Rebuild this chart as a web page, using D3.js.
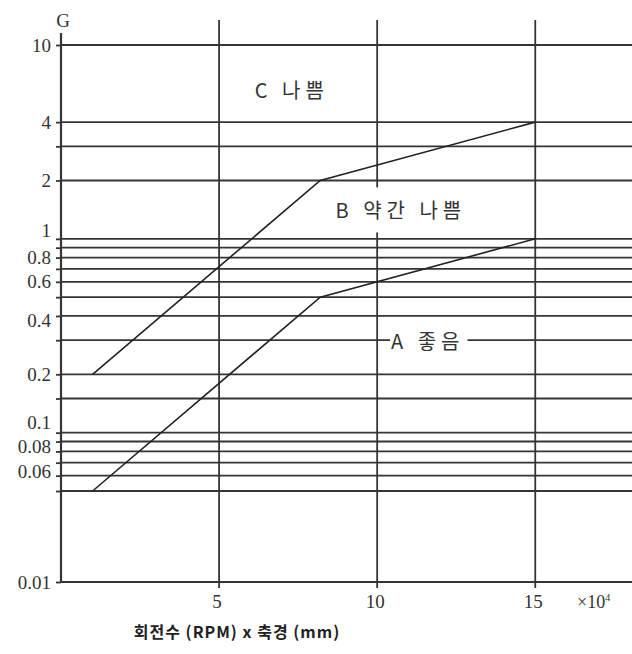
<!DOCTYPE html>
<html>
<head>
<meta charset="utf-8">
<script src="https://cdn.jsdelivr.net/npm/d3@7"></script>
<style>
  html, body { margin: 0; padding: 0; background: #fff; }
  svg { display: block; }
</style>
</head>
<body>
<svg id="chart" width="632" height="654"></svg>
<script>
// Vibration severity chart: G versus speed x shaft diameter
const xTicks = [5, 10, 15];
const gridValues = [10, 4, 3, 2, 1, 0.9, 0.8, 0.7, 0.6, 0.5, 0.4, 0.3, 0.2, 0.15, 0.1, 0.09, 0.08, 0.07, 0.06, 0.05];
const yTickLabels = ["10", "4", "2", "1", "0.8", "0.6", "0.4", "0.2", "0.1", "0.08", "0.06", "0.01"];
const boundaryUpperX = [1, 8.2, 15];
const boundaryUpperG = [0.2, 2, 4];
const boundaryLowerX = [1, 8.2, 15];
const boundaryLowerG = [0.05, 0.5, 1];
const zoneNames = ["C 나쁨", "B 약간 나쁨", "A 좋음"];
const zoneX = [7.3, 10.75, 11.6];
const zoneG = [5.9, 1.41, 0.3];

const svg = d3.select("#chart");
const ink = "#353535";

// x: linear; y: log scale, with the lowest band compressed down to 0.01
const x = d3.scaleLinear().domain([0, 18.06]).range([61, 632]);
const y = d3.scaleLog().domain([0.01, 0.05, 10]).range([582, 491, 45]);

// horizontal grid
svg.append("g").selectAll("line").data(gridValues).join("line")
  .attr("x1", x(0)).attr("x2", 632)
  .attr("y1", d => y(d)).attr("y2", d => y(d))
  .attr("stroke", ink).attr("stroke-width", 1.8);

// vertical grid
svg.append("g").selectAll("line").data(xTicks).join("line")
  .attr("x1", d => x(d)).attr("x2", d => x(d))
  .attr("y1", 20).attr("y2", 588)
  .attr("stroke", ink).attr("stroke-width", 1.8);

// y axis
const yAxis = d3.axisLeft(y)
  .tickValues(gridValues.concat([0.01]))
  .tickSize(5)
  .tickFormat("");
const gy = svg.append("g").attr("transform", `translate(${x(0)},0)`).call(yAxis);
gy.select(".domain").remove();
gy.selectAll(".tick line").attr("stroke", ink).attr("stroke-width", 1.8);
svg.append("line")
  .attr("x1", x(0)).attr("x2", x(0)).attr("y1", 33).attr("y2", y(0.01))
  .attr("stroke", ink).attr("stroke-width", 2.2);

// x axis
svg.append("line")
  .attr("x1", x(0)).attr("x2", 632).attr("y1", y(0.01)).attr("y2", y(0.01))
  .attr("stroke", ink).attr("stroke-width", 2);

const serif = "'Liberation Serif', 'DejaVu Serif', serif";

// y tick labels (a few nudged apart where the grid is dense)
const nudge = { "1": -8, "0.1": -10, "0.08": -5, "0.06": -4, "0.4": 5 };
svg.append("g").selectAll("text").data(yTickLabels).join("text")
  .attr("x", 51)
  .attr("y", d => y(+d) + (nudge[d] || 0))
  .attr("text-anchor", "end")
  .attr("dominant-baseline", "central")
  .attr("font-family", serif).attr("font-size", 19).attr("fill", "#333")
  .text(d => d);

svg.append("text")
  .attr("x", x(0) + 2).attr("y", 20)
  .attr("text-anchor", "middle").attr("dominant-baseline", "central")
  .attr("font-family", serif).attr("font-size", 19).attr("fill", "#333")
  .text("G");

// x tick labels
svg.append("g").selectAll("text").data(xTicks).join("text")
  .attr("x", d => x(d) - 2).attr("y", 608)
  .attr("text-anchor", "middle")
  .attr("font-family", serif).attr("font-size", 19).attr("fill", "#333")
  .text(d => d);

const unit = svg.append("text")
  .attr("x", 577).attr("y", 608)
  .attr("font-family", serif).attr("font-size", 18).attr("fill", "#333");
unit.append("tspan").text("×10");
unit.append("tspan").attr("dy", -7).attr("font-size", 10).text("4");

svg.append("text")
  .attr("x", 237).attr("y", 638)
  .attr("text-anchor", "middle")
  .attr("font-family", "'Noto Sans CJK KR', sans-serif")
  .attr("font-weight", "bold").attr("font-size", 16).attr("letter-spacing", 1)
  .attr("fill", "#222")
  .text("회전수 (RPM) x 축경 (mm)");

// zone boundary lines
const line = d3.line().x(d => x(d[0])).y(d => y(d[1]));
[[boundaryUpperX, boundaryUpperG], [boundaryLowerX, boundaryLowerG]].forEach(([xs, gs]) => {
  svg.append("path")
    .attr("d", line(d3.zip(xs, gs)))
    .attr("fill", "none").attr("stroke", "#222").attr("stroke-width", 1.6);
});

// zone names on white patches
zoneNames.forEach((name, i) => {
  const g = svg.append("g");
  const t = g.append("text")
    .attr("x", x(zoneX[i])).attr("y", y(zoneG[i]))
    .attr("text-anchor", "middle").attr("dominant-baseline", "central")
    .attr("font-family", "'Noto Sans CJK KR', sans-serif")
    .attr("font-size", 20).attr("letter-spacing", 5).attr("fill", "#333")
    .text(name);
  const b = t.node().getBBox();
  g.insert("rect", "text")
    .attr("x", b.x - 1).attr("y", b.y - 8)
    .attr("width", b.width + 4).attr("height", b.height + 16)
    .attr("fill", "#fff");
});
</script>
</body>
</html>
